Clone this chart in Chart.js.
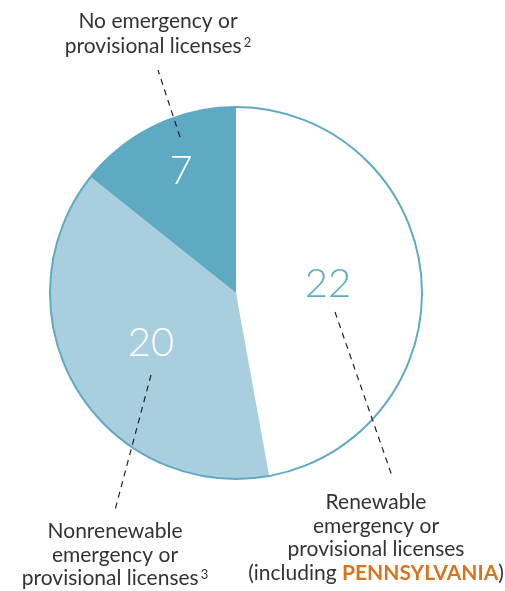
<!DOCTYPE html>
<html>
<head>
<meta charset="utf-8">
<script src="https://cdn.jsdelivr.net/npm/chart.js@4.4.0/dist/chart.umd.min.js"></script>
<style>
	html, body { margin: 0; padding: 0; background: #fff; }
	#wrap { width: 505px; height: 591px; }
</style>
</head>
<body>
<div id="wrap"><canvas id="licensePie" width="505" height="591"></canvas></div>
<script>
// values, clockwise from the top
const categories = ["Renewable emergency or provisional licenses", "Nonrenewable emergency or provisional licenses", "No emergency or provisional licenses"];
const counts = [22, 20, 7];
// the original slices are not quite to scale: sizes as drawn (170°, 139°, 51° of the circle)
const drawnShare = [23.1, 18.9, 7];
const sliceColors = ['#ffffff', '#a9cfde', '#5eaac3'];
const numberColors = ['#5eaac3', '#ffffff', '#ffffff'];

const outline = '#5eaac3';
const textColor = '#333333';
const orange = '#d9731e';

// where the numbers sit and where the callouts go (pixels)
const numberPos = [[328, 284], [151, 343], [181, 171]];
const leaders = [
	[[335, 312], [392, 476]],
	[[151, 375], [115, 510]],
	[[180, 137], [158, 70]],
];

function drawLines(ctx, lines, cx, y0, size, step){
	ctx.textBaseline = 'alphabetic';
	lines.forEach(function(parts, i){
		let total = 0;
		parts.forEach(function(p){
			ctx.font = (p.bold ? 'bold ' : '') + (p.sup ? Math.round(size*0.62) : size) + 'px Lato, "Open Sans", sans-serif';
			total += ctx.measureText(p.t).width + (p.sup ? 2 : 0);
		});
		let x = cx - total/2;
		parts.forEach(function(p){
			ctx.font = (p.bold ? 'bold ' : '') + (p.sup ? Math.round(size*0.62) : size) + 'px Lato, "Open Sans", sans-serif';
			ctx.fillStyle = p.color || textColor;
			ctx.textAlign = 'left';
			if(p.sup) x += 2;
			ctx.fillText(p.t, x, y0 + i*step - (p.sup ? size*0.28 : 0));
			x += ctx.measureText(p.t).width;
		});
	});
}

const calloutPlugin = {
	id: 'callouts',
	afterDatasetsDraw(chart){
		const ctx = chart.ctx;
		const arc = chart.getDatasetMeta(0).data[0];
		ctx.save();
		// outer ring only, no lines between slices
		ctx.beginPath();
		ctx.arc(arc.x, arc.y, arc.outerRadius, 0, Math.PI*2);
		ctx.strokeStyle = outline;
		ctx.lineWidth = 2;
		ctx.stroke();

		// numbers
		ctx.font = '300 40px Lato, "Open Sans", sans-serif';
		ctx.textAlign = 'center';
		ctx.textBaseline = 'middle';
		counts.forEach(function(v, i){
			ctx.fillStyle = numberColors[i];
			ctx.fillText(String(v), numberPos[i][0], numberPos[i][1]);
		});

		// dashed leaders
		ctx.setLineDash([6, 5]);
		ctx.strokeStyle = '#222';
		ctx.lineWidth = 1.2;
		leaders.forEach(function(l){
			ctx.beginPath();
			ctx.moveTo(l[0][0], l[0][1]);
			ctx.lineTo(l[1][0], l[1][1]);
			ctx.stroke();
		});
		ctx.setLineDash([]);

		drawLines(ctx, [
			[{t: 'No emergency or'}],
			[{t: 'provisional licenses'}, {t: '2', sup: true}],
		], 158, 28, 21, 25);
		drawLines(ctx, [
			[{t: 'Renewable'}],
			[{t: 'emergency or'}],
			[{t: 'provisional licenses'}],
			[{t: '(including '}, {t: 'PENNSYLVANIA', bold: true, color: orange}, {t: ')'}],
		], 376, 509, 21, 23.7);
		drawLines(ctx, [
			[{t: 'Nonrenewable'}],
			[{t: 'emergency or'}],
			[{t: 'provisional licenses'}, {t: '3', sup: true}],
		], 115, 538, 21, 23.5);
		ctx.restore();
	}
};

const ctx = document.getElementById('licensePie').getContext('2d');
const licensePie = new Chart(ctx, {
	type: 'pie',
	data: {
		labels: categories,
		datasets: [{
			data: drawnShare,
			backgroundColor: sliceColors,
			borderWidth: 0,
		}],
	},
	options: {
		responsive: false,
		animation: false,
		layout: { padding: { left: 50, right: 83, top: 107, bottom: 112 } },
		plugins: {
			legend: { display: false },
			tooltip: { enabled: false },
		},
	},
	plugins: [calloutPlugin],
});
</script>
</body>
</html>
